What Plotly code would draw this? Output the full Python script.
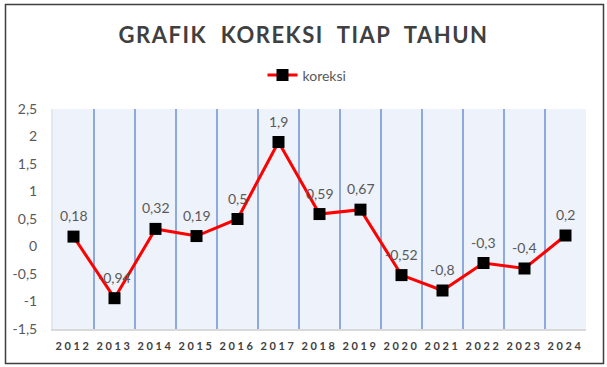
import plotly.graph_objects as go

years = ["2012", "2013", "2014", "2015", "2016", "2017", "2018",
         "2019", "2020", "2021", "2022", "2023", "2024"]
koreksi = [0.18, -0.94, 0.32, 0.19, 0.5, 1.9, 0.59, 0.67, -0.52, -0.8, -0.3, -0.4, 0.2]
y_tickvals = [2.5, 2, 1.5, 1, 0.5, 0, -0.5, -1, -1.5]
y_ticktext = ["2,5", "2", "1,5", "1", "0,5", "0", "-0,5", "-1", "-1,5"]

FONT = "Lato"
W, H = 607, 367
L, R, T, B = 53, 21, 109, 38
pw, ph = W - L - R, H - T - B


def px_x(x):
    return (x - L) / pw


def px_y(y):
    return (H - B - y) / ph


fig = go.Figure()
fig.add_trace(go.Scatter(
    x=years, y=koreksi, mode="lines+markers", name="koreksi",
    line=dict(color="#FF0000", width=3),
    marker=dict(symbol="square", size=12, color="#000000"),
    hoverinfo="skip",
))

for i, v in enumerate(koreksi):
    fig.add_annotation(
        x=i, y=v, xref="x", yref="y", text=str(v).replace(".", ","),
        showarrow=False, yshift=21,
        font=dict(family=FONT, size=14, color="#595959"),
    )

fig.add_shape(type="rect", xref="paper", yref="paper",
              x0=px_x(5.5), x1=px_x(603.5), y0=px_y(363.5), y1=px_y(4.5),
              line=dict(color="#3F3F3F", width=1.5), layer="below")

fig.update_layout(
    width=W, height=H,
    margin=dict(l=L, r=R, t=T, b=B, autoexpand=False),
    paper_bgcolor="#FFFFFF",
    plot_bgcolor="#EEF2FA",
    title=dict(
        text='<span style="letter-spacing:1.5px"><b>GRAFIK  KOREKSI  TIAP  TAHUN</b></span>',
        x=0.5, xref="container", xanchor="center",
        y=1 - 35.5 / H, yref="container", yanchor="middle",
        font=dict(family=FONT, size=22, color="#404040"),
    ),
    showlegend=True,
    legend=dict(orientation="h", x=px_x(307), xanchor="center",
                y=px_y(75.5), yanchor="middle",
                font=dict(family=FONT, size=14, color="#595959"),
                bgcolor="rgba(0,0,0,0)"),
    xaxis=dict(
        type="category", range=[-0.5, 12.5], tickson="boundaries",
        showgrid=True, gridcolor="#8EA9DB", gridwidth=1.5,
        ticks="", showline=True, linecolor="#D9D9D9", linewidth=1.5,
        tickvals=years, tickangle=0, automargin=False,
        ticktext=['<span style="letter-spacing:2.6px"><b>%s</b></span>' % y for y in years],
        tickfont=dict(family=FONT, size=11, color="#404040"),
        ticklabelstandoff=6, fixedrange=True,
    ),
    yaxis=dict(
        range=[-1.5, 2.5], tickvals=y_tickvals, ticktext=y_ticktext,
        showgrid=False, zeroline=False, ticks="",
        showline=True, linecolor="#E3E7EE", linewidth=2,
        tickfont=dict(family=FONT, size=14, color="#595959"),
        ticklabelstandoff=11, fixedrange=True, automargin=False,
    ),
)

fig.write_html("out.html", config={"displayModeBar": False},
               post_script="document.body.style.margin='0';")
